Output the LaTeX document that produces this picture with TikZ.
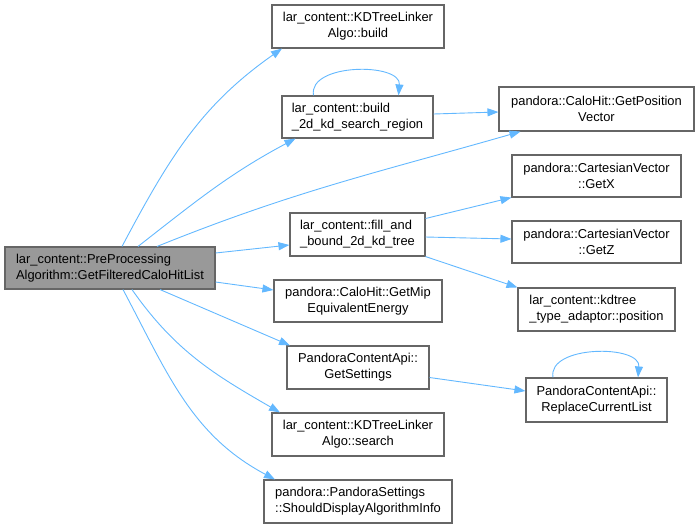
\documentclass[tikz,border=0pt]{standalone}
\usepackage{fontspec}
\setmainfont{Liberation Sans}
\usepackage{tikz}
\usetikzlibrary{arrows.meta,positioning}
\usepackage{xcolor}
\definecolor{edgeblue}{HTML}{63B8FF}
\definecolor{boxgray}{HTML}{666666}
\definecolor{maingray}{HTML}{999999}

\begin{document}
\begin{tikzpicture}[x=1pt, y=1pt, every node/.style={font=\fontsize{12.9}{16}\selectfont}]
      \tikzset{
	  fnode/.style={rectangle, draw=boxgray, fill=white, line width=1.1pt, inner sep=2pt, align=center, text=black},
	  mainnode/.style={fnode, fill=maingray},
	  call/.style={draw=edgeblue, line width=0.9pt, -{Triangle[length=11pt,width=8pt]}}
      }
      \useasboundingbox (0,0) rectangle (699,-528);
      \node at (110,-268) [mainnode, minimum width=210, minimum height=42, align=left] (main) {lar\_content::PreProcessing\\Algorithm::GetFilteredCaloHitList};

      \node at (358,-26.5) [fnode, minimum width=172, minimum height=43] (build) {lar\_content::KDTreeLinker\\Algo::build};
      \node at (357.5,-117) [fnode, minimum width=151, minimum height=42, align=left] (region) {lar\_content::build\\\_2d\_kd\_search\_region};
      \node at (357.5,-234.5) [fnode, minimum width=135, minimum height=43, align=left] (filltree) {lar\_content::fill\_and\\\_bound\_2d\_kd\_tree};
      \node at (358,-301) [fnode, minimum width=168, minimum height=42] (mip) {pandora::CaloHit::GetMip\\EquivalentEnergy};
      \node at (358,-367.5) [fnode, minimum width=142, minimum height=43] (settings) {PandoraContentApi::\\GetSettings};
      \node at (358,-434.5) [fnode, minimum width=172, minimum height=43] (search) {lar\_content::KDTreeLinker\\Algo::search};
      \node at (358,-501.5) [fnode, minimum width=188, minimum height=43, align=left] (display) {pandora::PandoraSettings\\::ShouldDisplayAlgorithmInfo};

      \node at (596.5,-109) [fnode, minimum width=195, minimum height=44] (position) {pandora::CaloHit::GetPosition\\Vector};
      \node at (596.5,-176) [fnode, minimum width=169, minimum height=42] (getx) {pandora::CartesianVector\\::GetX};
      \node at (596.5,-242) [fnode, minimum width=169, minimum height=42] (getz) {pandora::CartesianVector\\::GetZ};
      \node at (596.5,-309.5) [fnode, minimum width=157, minimum height=43, align=left] (adaptor) {lar\_content::kdtree\\\_type\_adaptor::position};
      \node at (596.5,-400) [fnode, minimum width=141, minimum height=44] (replace) {PandoraContentApi::\\ReplaceCurrentList};

      % calls from the main function
      \draw[call] ([xshift=12]main.north) to[out=62,in=215] ([xshift=-76]build.south);
      \draw[call] ([xshift=28]main.north) to[out=38,in=208] ([xshift=-62]region.south);
      \draw[call] ([xshift=47]main.north) to[out=22,in=196] ([xshift=-76]position.south);
      \draw[call] ([yshift=15]main.east) -- ([yshift=-10.5]filltree.west);
      \draw[call] ([yshift=-14]main.east) -- ([yshift=11]mip.west);
      \draw[call] ([xshift=50]main.south) -- ([xshift=-68]settings.north);
      \draw[call] ([xshift=22]main.south) to[out=-55,in=150] ([xshift=-78]search.north);
      \draw[call] ([xshift=13]main.south) to[out=-62,in=152] ([xshift=-83]display.north);

      % second level
      \draw[call] ([xshift=-44]region.north) to[out=100,in=85] ([xshift=41]region.north);
      \draw[call] ([yshift=3]region.east) -- ([yshift=-3]position.west);
      \draw[call] ([yshift=16]filltree.east) -- (getx.south west);
      \draw[call] ([yshift=-2.5]filltree.east) -- ([yshift=3]getz.west);
      \draw[call] (filltree.south east) -- (adaptor.north west);
      \draw[call] ([yshift=-10]settings.east) -- ([yshift=9]replace.west);
      \draw[call] ([xshift=-43.5]replace.north) to[out=100,in=85] ([xshift=41.5]replace.north);
    \end{tikzpicture}
\end{document}
